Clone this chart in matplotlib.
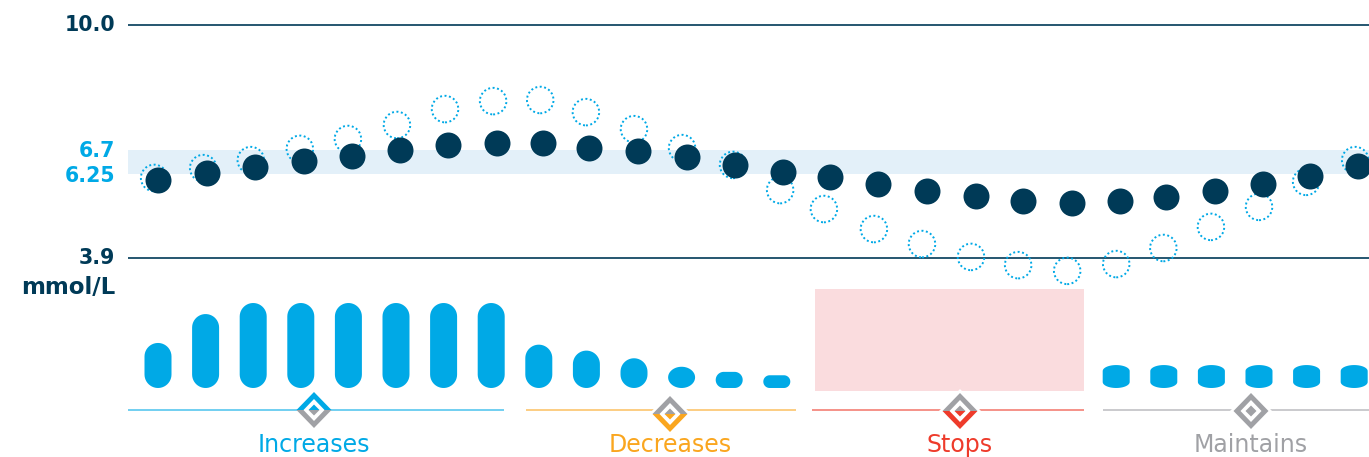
import numpy as np
import matplotlib
matplotlib.use("Agg")
import matplotlib.pyplot as plt
from matplotlib.patches import Polygon, Rectangle

plt.rcParams['font.family'] = ['DejaVu Sans']

# time steps and glucose, mmol/L
steps_with = [0, 1.02, 2.02, 3.04, 4.04, 5.04, 6.03, 7.05, 8.0, 8.96, 9.98, 11.0, 12.0,
              13.0, 13.98, 14.98, 16.0, 17.02, 18.0, 19.0, 20.0, 20.96, 21.98, 22.98, 23.97, 24.95]
glucose_with = [6.08, 6.27, 6.38, 6.49, 6.59, 6.70, 6.83, 6.88, 6.88, 6.75, 6.68, 6.57, 6.42,
                6.29, 6.17, 5.97, 5.77, 5.63, 5.49, 5.44, 5.49, 5.61, 5.77, 5.97, 6.19, 6.40]
steps_without = [-0.08, 0.94, 1.93, 2.95, 3.95, 4.97, 5.97, 6.97, 7.95, 8.90, 9.90, 10.90, 11.96,
                 12.94, 13.85, 14.89, 15.89, 16.91, 17.89, 18.91, 19.93, 20.91, 21.90, 22.90, 23.88, 24.90]
glucose_without = [6.14, 6.36, 6.51, 6.73, 6.99, 7.36, 7.78, 7.99, 8.02, 7.70, 7.25, 6.75, 6.42,
                   5.80, 5.27, 4.71, 4.29, 3.93, 3.70, 3.54, 3.73, 4.18, 4.77, 5.33, 6.03, 6.51]
# insulin delivery, 1 = tallest bar
rate_steps = [0, 1, 2, 3, 4, 5, 6, 7, 8, 9, 10, 11, 12, 13]
rates = [0.53, 0.87, 1, 1, 1, 1, 1, 1, 0.51, 0.44, 0.35, 0.25, 0.19, 0.15]
maintain_steps = [20.13, 21.13, 22.13, 23.13, 24.13, 25.13]
maintain_rates = [0.27, 0.27, 0.27, 0.27, 0.27, 0.27]
phases = ["Increases", "Decreases", "Stops", "Maintains"]
phase_start = [-0.62, 7.66, 13.60, 19.66]
phase_end = [7.20, 13.27, 19.26, 25.20]
line_ticks = [10.0, 3.9]

DARK = "#003a57"
BLUE = "#00a9e6"
ORANGE = "#faa61f"
RED = "#ee3b2b"
GREY = "#a0a1a5"
phase_cols = [BLUE, ORANGE, RED, GREY]
# colour of top / bottom half of the diamonds
top_cols = [BLUE, GREY, GREY, GREY]
bot_cols = [GREY, ORANGE, RED, GREY]
label_x = [314, 670, 960, 1251]
diamond_y = [410, 414, 411, 411]

W, H = 1369, 457
STEP = 48.08
X0 = 158
xlim = (-X0 / STEP, (W - X0) / STEP)

fig = plt.figure(figsize=(W / 100, H / 100), dpi=100)

# glucose axis is schematic: not linear between the labelled levels
g_vals = [-1.67, 3.9, 6.25, 6.7, 10.66]
g_pos = [-457, -258, -174, -150, 0]
def g_fwd(v):
    return np.interp(v, g_vals, g_pos)
def g_inv(v):
    return np.interp(v, g_pos, g_vals)

ax = fig.add_axes([0, 0, 1, 1])
ax.set_yscale('function', functions=(g_fwd, g_inv))
ax.set_xlim(xlim)
ax.set_ylim(-1.67, 10.66)
ax.axis('off')

left = (128 - X0) / STEP
ax.add_patch(Rectangle((left, 6.25), xlim[1] - left, 0.45, color="#e3f0f9", lw=0, zorder=1))
for v in line_ticks:
    ax.plot([left, xlim[1]], [v, v], color=DARK, lw=1.2, zorder=2, solid_capstyle='butt')
ax.scatter(steps_without, glucose_without, s=365, facecolor='none', edgecolor=BLUE,
           linewidth=1.4, linestyle=(0, (1, 1.3)), zorder=3, clip_on=False)
ax.scatter(steps_with, glucose_with, s=350, color=DARK, linewidth=0, zorder=4, clip_on=False)

# bars, baseline sits at 388 px and 85 px is rate 1; this axis runs a little tighter
B_STEP = 47.6
bx = fig.add_axes([0, 0, 1, 1])
bx.patch.set_alpha(0)
bx.set_xlim(-X0 / B_STEP, (W - X0) / B_STEP)
bx.set_ylim(-69 / 85, 388 / 85)
bx.axis('off')

def pill(x, h, ry, rx=13.5):
    # outline of one bar, rx and ry in px
    w = 13.5 / B_STEP
    rx = rx / B_STEP
    ry = ry / 85
    t = np.linspace(0, np.pi, 24)
    xs = x + np.sign(np.cos(t)) * (w - rx) + np.cos(t) * rx
    top = h - ry + np.sin(t) * ry
    bot = ry - np.sin(t) * ry
    return np.r_[np.c_[xs, top], np.c_[xs[::-1], bot[::-1]]]

for s, r in zip(rate_steps, rates):
    hpx = r * 85
    if hpx < 18:
        # very short bars: flat top with round corners
        shape = pill(s, r, hpx / 2, hpx / 2)
    else:
        shape = pill(s, r, min(hpx / 2, 13.5))
    bx.add_patch(Polygon(shape, color=BLUE, lw=0))
for s, r in zip(maintain_steps, maintain_rates):
    bx.add_patch(Polygon(pill(s, r, 6), color=BLUE, lw=0))

# stop zone and phase rules on the glucose x axis
low = g_inv(-391.0)
high = g_inv(-289.0)
ax.add_patch(Rectangle((13.66, low), 5.6, high - low, color="#fadcde", lw=0, zorder=1))
rule_y = g_inv(-410.0)
for c, a, b in zip(phase_cols, phase_start, phase_end):
    ax.plot([a, b], [rule_y, rule_y], color=c, alpha=0.6, lw=1.3, solid_capstyle='butt', zorder=2)

# pixel overlay for labels and the diamond icons
px = fig.add_axes([0, 0, 1, 1])
px.patch.set_alpha(0)
px.set_xlim(0, W)
px.set_ylim(H, 0)
px.axis('off')

def half(cx, cy, w, h, up, col, z):
    sign = -1 if up else 1
    px.add_patch(Polygon([(cx - w, cy), (cx, cy + sign * h), (cx + w, cy)], color=col, lw=0, zorder=z))

for i, name in enumerate(phases):
    cx, cy = label_x[i], diamond_y[i]
    if i > 0:
        # white gap where the rule meets the icon
        px.add_patch(Polygon([(cx - 21, cy), (cx, cy - 22), (cx + 21, cy), (cx, cy + 22)], color='white', lw=0, zorder=5))
    half(cx, cy, 17.5, 18, True, top_cols[i], 6)
    half(cx, cy, 17.5, 18, False, bot_cols[i], 6)
    px.add_patch(Polygon([(cx - 10.5, cy), (cx, cy - 11), (cx + 10.5, cy), (cx, cy + 11)], color='white', lw=0, zorder=7))
    half(cx, cy, 5.5, 5.5, True, GREY if i else BLUE, 8)
    half(cx, cy, 5.5, 5.5, False, bot_cols[i] if i < 3 else GREY, 8)
    px.text(cx, 445, name, color=phase_cols[i], fontsize=17, ha='center', va='center')

px.text(115, 25, "10.0", color=DARK, fontsize=14.8, fontweight='bold', ha='right', va='center')
px.text(115, 151, "6.7", color=BLUE, fontsize=14.8, fontweight='bold', ha='right', va='center')
px.text(115, 176, "6.25", color=BLUE, fontsize=14.8, fontweight='bold', ha='right', va='center')
px.text(115, 258, "3.9", color=DARK, fontsize=14.8, fontweight='bold', ha='right', va='center')
px.text(115, 287, "mmol/L", color=DARK, fontsize=16.5, fontweight='bold', ha='right', va='center')

fig.savefig("out.png", dpi=100)
